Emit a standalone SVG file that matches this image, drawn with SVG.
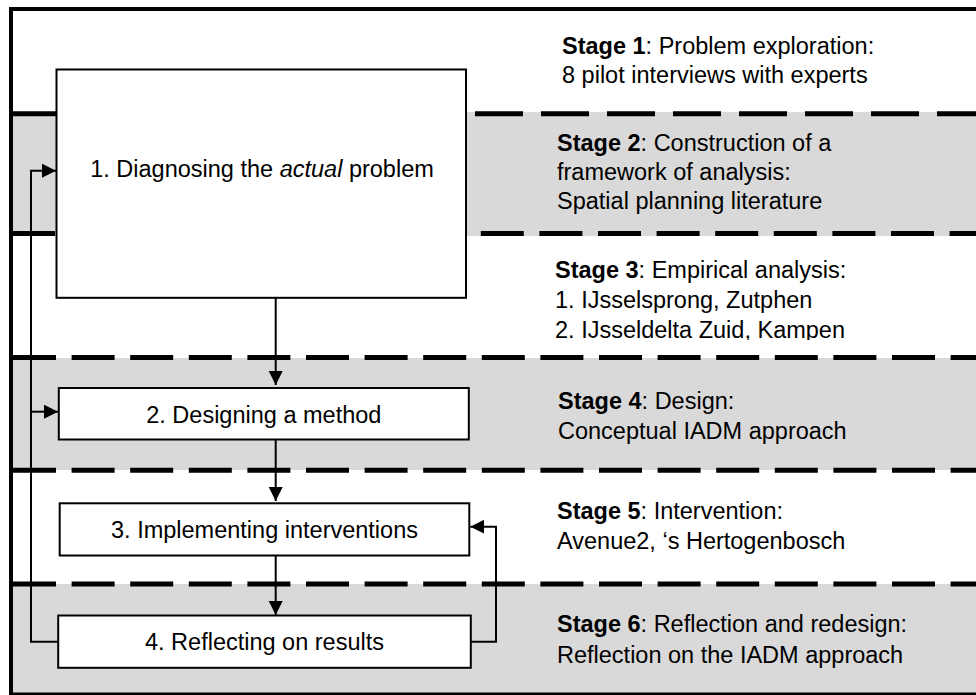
<svg xmlns="http://www.w3.org/2000/svg" width="976" height="695" viewBox="0 0 976 695">
  <style>
    .band { fill: #d9d9d9; }
    .sep { stroke: #000; stroke-width: 5; fill: none; }
    .sep-a { stroke-dasharray: 48 18; }
    .sep-b { stroke-dasharray: 43 15.6; }
    .frame { fill: none; stroke: #000; stroke-width: 4; }
    .box { fill: #fff; stroke: #000; stroke-width: 2; }
    .label { font-family: "Liberation Sans", Arial, sans-serif; font-size: 23.5px; fill: #000; }
    .center { text-anchor: middle; }
    .b { font-weight: bold; }
    .conn { fill: none; stroke: #000; stroke-width: 2; stroke-linejoin: miter; }
  </style>
  <defs>
    <marker id="arrow" markerUnits="userSpaceOnUse" markerWidth="15" markerHeight="15" refX="14" refY="7" orient="auto">
      <path d="M0,0 L14,7 L0,14 Z" fill="#000"/>
    </marker>
    <clipPath id="stage3-clip">
      <rect x="540" y="236" width="436" height="104"/>
    </clipPath>
  </defs>

  <!-- page background -->
  <rect x="0" y="0" width="976" height="695" fill="#fff"/>

  <!-- alternating shaded stage bands -->
  <g id="bands">
    <rect class="band" x="11" y="112" width="970" height="124"/>
    <rect class="band" x="11" y="358" width="970" height="112"/>
    <rect class="band" x="11" y="584" width="970" height="112"/>
  </g>

  <!-- dashed separators between stages -->
  <g id="separators">
    <line class="sep sep-a" x1="13" y1="113.8" x2="976" y2="113.8"/>
    <line class="sep sep-b" x1="12" y1="233.5" x2="976" y2="233.5"/>
    <line class="sep sep-b" x1="13" y1="357.6" x2="976" y2="357.6"/>
    <line class="sep sep-b" x1="13" y1="470.3" x2="976" y2="470.3"/>
    <line class="sep sep-b" x1="13" y1="584" x2="976" y2="584"/>
  </g>

  <!-- outer frame -->
  <rect class="frame" x="11" y="9" width="975" height="685.5"/>

  <!-- stage descriptions -->
  <g id="stage1">
    <text class="label" x="562" y="54"><tspan class="b">Stage 1</tspan>: Problem exploration:</text>
    <text class="label" x="562" y="83">8 pilot interviews with experts</text>
  </g>
  <g id="stage2">
    <text class="label" x="557" y="151"><tspan class="b">Stage 2</tspan>: Construction of a</text>
    <text class="label" x="557" y="180">framework of analysis:</text>
    <text class="label" x="557" y="209">Spatial planning literature</text>
  </g>
  <g id="stage3" clip-path="url(#stage3-clip)">
    <text class="label" x="555" y="278"><tspan class="b">Stage 3</tspan>: Empirical analysis:</text>
    <text class="label" x="555" y="308">1. IJsselsprong, Zutphen</text>
    <text class="label" x="555" y="338">2. IJsseldelta Zuid, Kampen</text>
  </g>
  <g id="stage4">
    <text class="label" x="558" y="409"><tspan class="b">Stage 4</tspan>: Design:</text>
    <text class="label" x="558" y="439">Conceptual IADM approach</text>
  </g>
  <g id="stage5">
    <text class="label" x="557" y="519"><tspan class="b">Stage 5</tspan>: Intervention:</text>
    <text class="label" x="557" y="549">Avenue2, &#8216;s Hertogenbosch</text>
  </g>
  <g id="stage6">
    <text class="label" x="557" y="632"><tspan class="b">Stage 6</tspan>: Reflection and redesign:</text>
    <text class="label" x="557" y="663">Reflection on the IADM approach</text>
  </g>

  <!-- connectors -->
  <g id="connectors">
    <line class="conn" x1="275.7" y1="298" x2="275.7" y2="385" marker-end="url(#arrow)"/>
    <line class="conn" x1="275.7" y1="440" x2="275.7" y2="501" marker-end="url(#arrow)"/>
    <line class="conn" x1="275.7" y1="556" x2="275.7" y2="615" marker-end="url(#arrow)"/>
    <!-- feedback from reflection back to diagnosis and design -->
    <path class="conn" d="M58,641.7 H31 V170.7 H56" marker-end="url(#arrow)"/>
    <path class="conn" d="M31,411.7 H58" marker-end="url(#arrow)"/>
    <!-- feedback from reflection back to interventions -->
    <path class="conn" d="M471,641.7 H496 V526.7 H470.3" marker-end="url(#arrow)"/>
  </g>

  <!-- process steps -->
  <g id="step1">
    <rect class="box" x="56.5" y="69.5" width="409.5" height="228.3"/>
    <text class="label center" x="262" y="177">1. Diagnosing the <tspan font-style="italic">actual</tspan> problem</text>
  </g>
  <g id="step2">
    <rect class="box" x="58.8" y="388" width="410" height="51.5"/>
    <text class="label center" x="263.8" y="422.7">2. Designing a method</text>
  </g>
  <g id="step3">
    <rect class="box" x="59.7" y="503.3" width="409.6" height="52.2"/>
    <text class="label center" x="264.5" y="538.3">3. Implementing interventions</text>
  </g>
  <g id="step4">
    <rect class="box" x="58.2" y="615.5" width="412.6" height="52.3"/>
    <text class="label center" x="264.5" y="650">4. Reflecting on results</text>
  </g>
</svg>
